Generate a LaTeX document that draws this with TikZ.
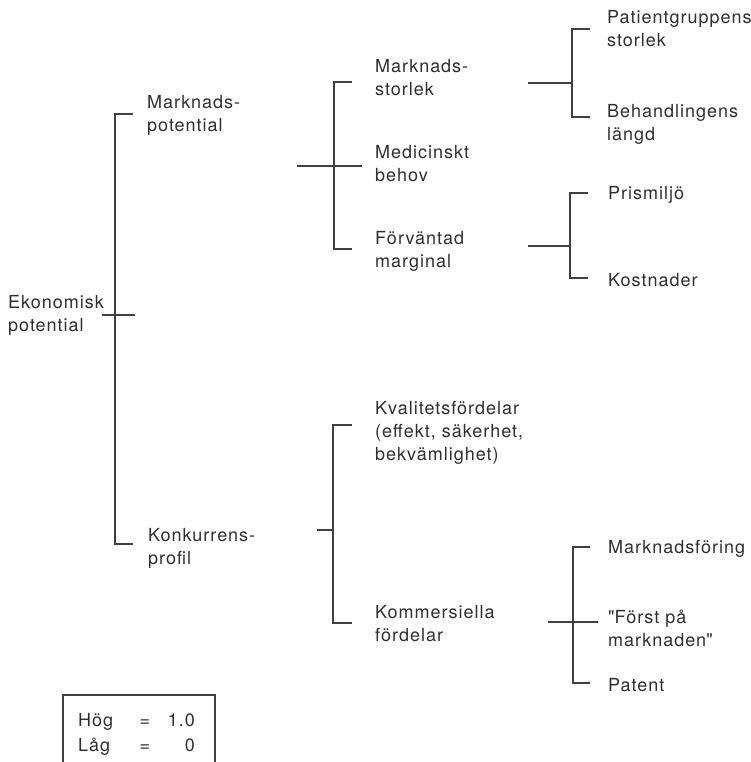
\documentclass[tikz,border=0pt]{standalone}
\usepackage{fontspec}
\setmainfont{TeX Gyre Heros}[LetterSpace=5.5]
\definecolor{ink}{HTML}{2E2E2E}
\definecolor{rule}{HTML}{404040}
\tikzset{
  lbl/.style={anchor=base west, inner sep=0pt, align=left, text=ink,
    font=\fontsize{18}{23}\selectfont},
  lgd/.style={inner sep=0pt, text=ink, font=\fontsize{18}{23}\selectfont},
  link/.style={draw=rule, line width=1.3pt},
  frame/.style={draw=rule, line width=1.3pt}
}
\begin{document}
\begin{tikzpicture}[x=1pt,y=-1pt]
\useasboundingbox (0,0) rectangle (751,762);

% ---- labels, level 1 (base anchor sits on the last line) ----
\node[lbl] (ek) at (8,331) {Ekonomisk\\potential};
\node[lbl] (mp) at (147,132) {Marknads-\\potential};
\node[lbl] (kp) at (148,564) {Konkurrens-\\profil};

% ---- labels, level 2 ----
\node[lbl] (ms) at (375,96) {Marknads-\\storlek};
\node[lbl] (mb) at (375,182) {Medicinskt\\behov};
\node[lbl] (fm) at (375,267) {Förväntad\\marginal};
\node[lbl] (kf) at (375,460) {Kvalitetsfördelar\\(effekt, säkerhet,\\bekvämlighet)};
\node[lbl] (kom) at (375,641) {Kommersiella\\fördelar};

% ---- labels, level 3 ----
\node[lbl] (pg) at (607,47) {Patientgruppens\\storlek};
\node[lbl] (bl) at (607,141) {Behandlingens\\längd};
\node[lbl] (pm) at (608,199) {Prismiljö};
\node[lbl] (ko) at (608,286) {Kostnader};
\node[lbl] (mf) at (608,553) {Marknadsföring};
\node[lbl] (fp) at (608,646) {\textquotedbl Först på\\marknaden\textquotedbl};
\node[lbl] (pa) at (608,691) {Patent};

% ---- bracket junctions ----
\coordinate (a0) at (102,315);  \coordinate (a1) at (135,315);
\coordinate (at) at (133,114);  \coordinate (ab) at (133,544);
\coordinate (as) at (115,114);  \coordinate (ae) at (115,544);

\coordinate (b0) at (297,166);  \coordinate (b1) at (362,166);
\coordinate (bs) at (334,82);   \coordinate (be) at (334,249);
\coordinate (bt) at (352,82);   \coordinate (bb) at (352,249);

\coordinate (c0) at (317,530);  \coordinate (c1) at (333,530);
\coordinate (cs) at (333,425);  \coordinate (ce) at (333,623);
\coordinate (ct) at (352,425);  \coordinate (cb) at (352,623);

\coordinate (d0) at (528,83);   \coordinate (d1) at (572,83);
\coordinate (ds) at (572,29);   \coordinate (de) at (572,117);
\coordinate (dt) at (590,29);   \coordinate (db) at (590,117);

\coordinate (e0) at (528,246);  \coordinate (e1) at (570,246);
\coordinate (es) at (570,193);  \coordinate (ee) at (570,278);
\coordinate (et) at (588,193);  \coordinate (eb) at (588,278);

\coordinate (f0) at (548,622);  \coordinate (f1) at (598,622);
\coordinate (fs) at (573,547);  \coordinate (fe) at (573,683);
\coordinate (ft) at (590,547);  \coordinate (fb) at (590,683);

% ---- brackets ----
\draw[link] (a0) -- (a1);
\draw[link] (at) -- (as) -- (ae) -- (ab);

\draw[link] (b0) -- (b1);
\draw[link] (bt) -- (bs) -- (be) -- (bb);

\draw[link] (c0) -- (c1);
\draw[link] (ct) -- (cs) -- (ce) -- (cb);

\draw[link] (d0) -- (d1);
\draw[link] (dt) -- (ds) -- (de) -- (db);

\draw[link] (e0) -- (e1);
\draw[link] (et) -- (es) -- (ee) -- (eb);

\draw[link] (f0) -- (f1);
\draw[link] (ft) -- (fs) -- (fe) -- (fb);

% ---- legend ----
\draw[frame] (63,770) -- (63,695) -- (215,695) -- (215,770);
\node[lgd, anchor=base west] (hog) at (78,726) {Hög};
\node[lgd, anchor=base] (hogeq) at (145,726) {=};
\node[lgd, anchor=base east] (hogv) at (195,726) {1.0};
\node[lgd, anchor=base west] (lag) at (78,751) {Låg};
\node[lgd, anchor=base] (lageq) at (145,751) {=};
\node[lgd, anchor=base east] (lagv) at (195,751) {0};
\end{tikzpicture}
\end{document}
